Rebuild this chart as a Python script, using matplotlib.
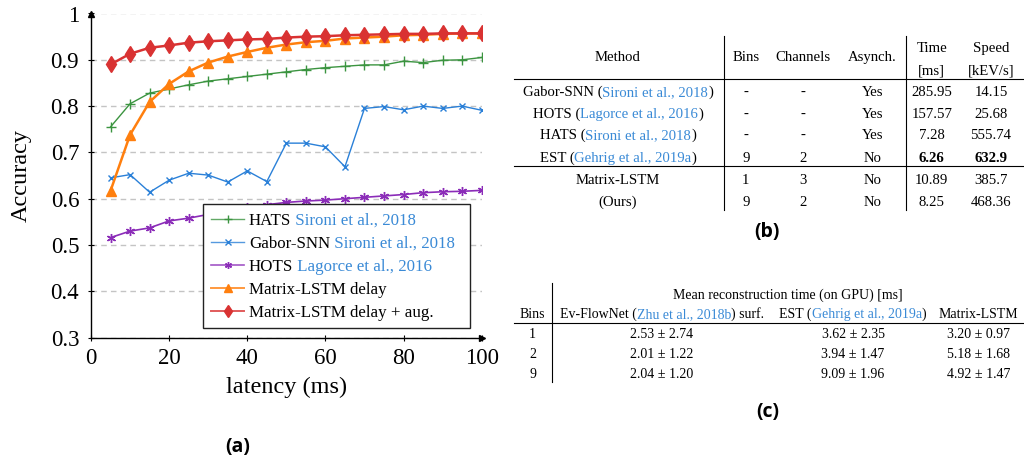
import numpy as np
import matplotlib
matplotlib.use("Agg")
import matplotlib.pyplot as plt
from matplotlib.transforms import IdentityTransform
from matplotlib.lines import Line2D
from matplotlib.patches import Rectangle

# ---------------- data ----------------
latency = [5, 10, 15, 20, 25, 30, 35, 40, 45, 50, 55, 60, 65, 70, 75, 80, 85, 90, 95, 100]
hats = [0.755, 0.805, 0.828, 0.837, 0.846, 0.854, 0.859, 0.864, 0.869, 0.874, 0.879, 0.883,
        0.886, 0.889, 0.889, 0.897, 0.894, 0.899, 0.900, 0.905]
gabor = [0.645, 0.652, 0.614, 0.640, 0.655, 0.651, 0.636, 0.660, 0.637, 0.720, 0.720, 0.712,
         0.669, 0.795, 0.799, 0.792, 0.800, 0.795, 0.800, 0.791]
hots = [0.516, 0.530, 0.537, 0.552, 0.558, 0.566, 0.574, 0.581, 0.587, 0.592, 0.595, 0.597,
        0.600, 0.603, 0.606, 0.609, 0.613, 0.615, 0.616, 0.618]
mlstm = [0.617, 0.738, 0.809, 0.848, 0.875, 0.894, 0.907, 0.917, 0.926, 0.933, 0.938, 0.941,
         0.946, 0.948, 0.950, 0.953, 0.954, 0.956, 0.957, 0.957]
mlstm_aug = [0.890, 0.913, 0.926, 0.931, 0.937, 0.940, 0.942, 0.944, 0.945, 0.948, 0.950, 0.951,
             0.953, 0.954, 0.955, 0.956, 0.956, 0.957, 0.957, 0.957]

legend_heads = ["HATS", "Gabor-SNN", "HOTS", "Matrix-LSTM delay", "Matrix-LSTM delay + aug."]
legend_cites = ["Sironi et al., 2018", "Sironi et al., 2018", "Lagorce et al., 2016", None, None]

x_ticks = [0, 20, 40, 60, 80, 100]
y_ticks = [0.3, 0.4, 0.5, 0.6, 0.7, 0.8, 0.9, 1.0]
y_tick_labels = ["0.3", "0.4", "0.5", "0.6", "0.7", "0.8", "0.9", "1"]

b_header = ["Method", "Bins", "Channels", "Asynch."]
b_header2 = [("Time", "[ms]"), ("Speed", "[kEV/s]")]
b_methods = ["Gabor-SNN", "HOTS", "HATS", "EST", "Matrix-LSTM", "(Ours)"]
b_cites = ["Sironi et al., 2018", "Lagorce et al., 2016", "Sironi et al., 2018",
           "Gehrig et al., 2019a", None, None]
b_bins = ["-", "-", "-", "9", "1", "9"]
b_channels = ["-", "-", "-", "2", "3", "2"]
b_async = ["Yes", "Yes", "Yes", "No", "No", "No"]
b_time = ["285.95", "157.57", "7.28", "6.26", "10.89", "8.25"]
b_speed = ["14.15", "25.68", "555.74", "632.9", "385.7", "468.36"]
b_bold_row = 3

c_title = "Mean reconstruction time (on GPU) [ms]"
c_bins = ["1", "2", "9"]
c_evflownet = ["2.53 \u00b1 2.74", "2.01 \u00b1 1.22", "2.04 \u00b1 1.20"]
c_est = ["3.62 \u00b1 2.35", "3.94 \u00b1 1.47", "9.09 \u00b1 1.96"]
c_mlstm = ["3.20 \u00b1 0.97", "5.18 \u00b1 1.68", "4.92 \u00b1 1.47"]

# ---------------- style ----------------
W, H = 1024, 466
SERIF = "Liberation Serif"
CITE = "#3a8ad6"
C_GREEN = "#3b9440"
C_BLUE = "#2a80d8"
C_PURPLE = "#8b2cb8"
C_ORANGE = "#ff7f0e"
C_RED = "#d93232"

fig = plt.figure(figsize=(W / 100, H / 100), dpi=100)
ID = IdentityTransform()

# ---------------- (a) line chart ----------------
ax = fig.add_axes([91 / W, 1 - 337.6 / H, (481.7 - 91) / W, (337.6 - 13.5) / H])
styles = [
    dict(color=C_GREEN, lw=1.0, marker="+", ms=7, mew=1.0),
    dict(color=C_BLUE, lw=1.0, marker="x", ms=4.5, mew=1.0),
    dict(color=C_PURPLE, lw=1.2, marker=(6, 2, 0), ms=6.5, mew=1.0),
    dict(color=C_ORANGE, lw=1.8, marker="^", ms=7.5),
    dict(color=C_RED, lw=1.8, marker="d", ms=8),
]
for series, st in zip([hats, gabor, hots, mlstm, mlstm_aug], styles):
    ax.plot(latency, series, **st)

ax.set_xlim(0, 100)
ax.set_ylim(0.3, 1.0)
ax.set_xticks(x_ticks)
ax.set_xticklabels([str(v) for v in x_ticks])
ax.set_yticks(y_ticks)
ax.set_yticklabels(y_tick_labels)
for lab in ax.get_xticklabels() + ax.get_yticklabels():
    lab.set_family(SERIF)
    lab.set_fontsize(16.5)
ax.tick_params(axis="both", direction="inout", length=5, width=0.8, colors="black")
ax.tick_params(axis="y", pad=6)
ax.tick_params(axis="x", pad=5)
ax.yaxis.grid(True, color="#c4c4c4", lw=1.0, linestyle=(0, (4, 3)))
ax.set_axisbelow(True)
for s in ("top", "right"):
    ax.spines[s].set_visible(False)
for s in ("left", "bottom"):
    ax.spines[s].set_linewidth(1.0)
ax.plot(1, 0, ">k", ms=4, transform=ax.transAxes, clip_on=False)
ax.plot(0, 1, "^k", ms=4, transform=ax.transAxes, clip_on=False)

fig.text(287 / W, 1 - 387 / H, "latency (ms)", ha="center", va="center", fontsize=17.5, family=SERIF)
fig.text(21 / W, 1 - 175.5 / H, "Accuracy", ha="center", va="center", rotation=90, fontsize=17.5, family=SERIF)

# ---------------- helpers ----------------
fig.canvas.draw()
renderer = fig.canvas.get_renderer()


def tw(s, size, weight="normal"):
    t = fig.text(0, 0, s, fontsize=size, family=SERIF, weight=weight, transform=ID)
    w = t.get_window_extent(renderer).width
    t.remove()
    return w


def put(xc, yc, segs, size, weight="normal", ha="center", zorder=3):
    full = "".join(s for s, _ in segs)
    total = tw(full, size, weight)
    x0 = xc - total / 2 if ha == "center" else xc
    yb = H - (yc + 0.33 * size * 100 / 72)
    prefix = ""
    bar = tw("|", size, weight)
    for s, c in segs:
        off = 0 if not prefix else tw(prefix + "|", size, weight) - bar
        fig.text(x0 + off, yb, s, color=c, fontsize=size, family=SERIF, weight=weight,
                 ha="left", va="baseline", transform=ID, zorder=zorder)
        prefix += s


def hline(x0, x1, y):
    fig.add_artist(Line2D([x0 / W, x1 / W], [1 - y / H, 1 - y / H], color="black", lw=0.8,
                          transform=fig.transFigure))


def vline(x, y0, y1):
    fig.add_artist(Line2D([x / W, x / W], [1 - y0 / H, 1 - y1 / H], color="black", lw=0.8,
                          transform=fig.transFigure))


# ---------------- legend (drawn by hand for two-colour labels) ----------------
fig.add_artist(Rectangle((203 / W, 1 - 328 / H), (470 - 203) / W, (328 - 204) / H,
                         transform=fig.transFigure, facecolor="white", edgecolor="#222222",
                         lw=1.0, zorder=5))
LS = 12.2
leg_rows_y = [219, 242, 265, 288, 311]
leg_ms = [6, 4, 5, 6, 6.5]
for y, h, c, st, ms in zip(leg_rows_y, legend_heads, legend_cites, styles, leg_ms):
    fig.add_artist(Line2D([211 / W, 244 / W], [1 - y / H, 1 - y / H], color=st["color"],
                          lw=min(st["lw"], 1.4), alpha=0.8, transform=fig.transFigure, zorder=6))
    mk = {k: v for k, v in st.items() if k not in ("lw",)}
    mk["ms"] = ms
    fig.add_artist(Line2D([227.5 / W], [1 - y / H], linestyle="none", transform=fig.transFigure,
                          zorder=7, **mk))
    segs = [(h, "black")] if c is None else [(h, "black"), (" " + c, CITE)]
    put(249, y, segs, LS, ha="left", zorder=8)

# ---------------- (b) table ----------------
BS = 10.6
bx = [618, 745.7, 802.7, 872.3, 931.7, 991]
for x, h in zip(bx[:4], b_header):
    put(x, 56, [(h, "black")], BS)
for x, (h1, h2) in zip(bx[4:], b_header2):
    put(x, 47.3, [(h1, "black")], BS)
    put(x, 69.3, [(h2, "black")], BS)
b_rows_y = [91.3, 113.3, 134.3, 156.7, 178.7, 200.7]
for i, y in enumerate(b_rows_y):
    if b_cites[i] is None:
        put(bx[0], y, [(b_methods[i], "black")], BS)
    else:
        put(bx[0], y, [(b_methods[i] + " (", "black"), (b_cites[i], CITE), (")", "black")], BS)
    put(bx[1], y, [(b_bins[i], "black")], BS)
    put(bx[2], y, [(b_channels[i], "black")], BS)
    put(bx[3], y, [(b_async[i], "black")], BS)
    wt = "bold" if i == b_bold_row else "normal"
    put(bx[4], y, [(b_time[i], "black")], BS, weight=wt)
    put(bx[5], y, [(b_speed[i], "black")], BS, weight=wt)
hline(514, 1023, 79.3)
hline(514, 1023, 166)
vline(724.3, 36, 210)
vline(905.7, 36, 210)

# ---------------- (c) table ----------------
CS = 10.0
put(788, 294, [(c_title, "black")], CS)
put(532.7, 313.3, [("Bins", "black")], CS)
put(662, 313.3, [("Ev-FlowNet (", "black"), ("Zhu et al., 2018b", CITE), (") surf.", "black")], CS)
put(853, 313.3, [("EST (", "black"), ("Gehrig et al., 2019a", CITE), (")", "black")], CS)
put(978.3, 313.3, [("Matrix-LSTM", "black")], CS)
for i, y in enumerate([333.3, 353.3, 373.3]):
    put(532.7, y, [(c_bins[i], "black")], CS)
    put(662, y, [(c_evflownet[i], "black")], CS)
    put(853, y, [(c_est[i], "black")], CS)
    put(978.3, y, [(c_mlstm[i], "black")], CS)
vline(551.7, 283.3, 381.7)
hline(514, 1024, 322.7)

# ---------------- panel labels ----------------
for x, y, s in [(238, 446.7, "(a)"), (766.7, 231.7, "(b)"), (767.7, 411.7, "(c)")]:
    fig.text(x / W, 1 - y / H, s, ha="center", va="center", fontsize=14,
             family="Open Sans", weight="bold")

fig.savefig("out.png", dpi=100)
